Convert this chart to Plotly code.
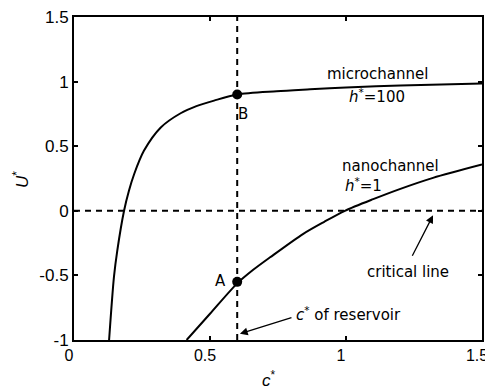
import plotly.graph_objects as go

# values
micro_c = [0.129, 0.147, 0.159, 0.184, 0.202, 0.221, 0.257, 0.319, 0.392, 0.45, 0.515, 0.6, 0.745, 0.868, 1.0, 1.2, 1.5]
micro_u = [-1.0, -0.51, -0.31, 0.0, 0.155, 0.283, 0.464, 0.645, 0.755, 0.81, 0.853, 0.9, 0.925, 0.94, 0.955, 0.97, 0.985]

nano_c = [0.414, 0.5, 0.601, 0.66, 0.721, 0.843, 0.92, 0.996, 1.1, 1.2, 1.32, 1.5]
nano_u = [-1.0, -0.797, -0.56, -0.455, -0.36, -0.178, -0.085, 0.0, 0.09, 0.17, 0.255, 0.358]

points_c = [0.6, 0.6]
points_u = [-0.55, 0.9]

reservoir_c = 0.6
critical_u = 0.0

x_ticks = [0, 0.5, 1, 1.5]
y_ticks = [-1, -0.5, 0, 0.5, 1, 1.5]

FONT = "Liberation Sans, Arial, sans-serif"
TEXT_FONT = "DejaVu Sans, sans-serif"

fig = go.Figure()

fig.add_trace(go.Scatter(x=micro_c, y=micro_u, mode="lines",
                         line=dict(color="black", width=2, shape="spline", smoothing=0.8)))
fig.add_trace(go.Scatter(x=nano_c, y=nano_u, mode="lines",
                         line=dict(color="black", width=2, shape="spline", smoothing=0.8)))

# dashed guide lines
fig.add_trace(go.Scatter(x=[reservoir_c, reservoir_c], y=[-1, 1.5], mode="lines",
                         line=dict(color="black", width=2, dash="6px,5px")))
fig.add_trace(go.Scatter(x=[0, 1.5], y=[critical_u, critical_u], mode="lines",
                         line=dict(color="black", width=2, dash="6px,5px")))

fig.add_trace(go.Scatter(x=points_c, y=points_u, mode="markers",
                         marker=dict(color="black", size=10)))

ann = []
def label(x, y, text, size=15, **kw):
    ann.append(dict(x=x, y=y, xref="x", yref="y", text=text, showarrow=False,
                    font=dict(family=TEXT_FONT, size=size, color="black"), **kw))

label(1.115, 1.06, "microchannel")
label(1.113, 0.885, "<i>h</i><sup>*</sup>=100")
label(0.621, 0.753, "B")
label(1.165, 0.345, "nanochannel")
label(1.066, 0.2, "<i>h</i><sup>*</sup>=1")
label(0.537, -0.54, "A")
label(1.229, -0.47, "critical line")
label(1.008, -0.797, "<i>c</i><sup>*</sup> of reservoir")

# arrows
ann.append(dict(x=1.32, y=-0.035, ax=1.241, ay=-0.359, xref="x", yref="y", axref="x", ayref="y",
                text="", showarrow=True, arrowhead=2, arrowsize=1.2, arrowwidth=1.3, arrowcolor="black"))
ann.append(dict(x=0.61, y=-0.952, ax=0.805, ay=-0.824, xref="x", yref="y", axref="x", ayref="y",
                text="", showarrow=True, arrowhead=2, arrowsize=1.2, arrowwidth=1.3, arrowcolor="black"))

# axis titles (paper coordinates so they are not hidden outside the ranges)
ann.append(dict(x=-0.13, y=0.498, xref="paper", yref="paper", text="<i>U</i><sup>*</sup>", showarrow=False,
                xanchor="center", yanchor="middle",
                textangle=-90, font=dict(family=FONT, size=17, color="black")))
ann.append(dict(x=0.479, y=-0.122, xref="paper", yref="paper", text="<i>c</i><sup>*</sup>", showarrow=False,
                xanchor="center", yanchor="middle",
                font=dict(family=FONT, size=17, color="black")))

# page body has an 8px margin, so the figure is sized to the remaining window
fig.update_layout(
    width=485, height=382,
    margin=dict(l=66, r=11, t=9, b=50, autoexpand=False),
    paper_bgcolor="white", plot_bgcolor="white",
    showlegend=False,
    annotations=ann,
    font=dict(family=FONT, size=17, color="black"),
)
fig.update_xaxes(range=[0, 1.5], tickvals=x_ticks, ticktext=["0", "0.5", "1", "1.5"],
                 tickfont=dict(size=16),
                 ticklabeloverflow="allow", automargin=False, ticklabelshift=-5,
                 showline=True, linecolor="black", linewidth=2, mirror="ticks",
                 ticks="inside", ticklen=4, tickcolor="black", tickwidth=1.5,
                 showgrid=False, zeroline=False)
fig.update_yaxes(range=[-1, 1.5], tickvals=y_ticks, ticktext=["-1", "-0.5", "0", "0.5", "1", "1.5"],
                 ticklabeloverflow="allow", automargin=False,
                 showline=True, linecolor="black", linewidth=2, mirror="ticks",
                 ticks="inside", ticklen=4, tickcolor="black", tickwidth=1.5,
                 showgrid=False, zeroline=False)

fig.write_html("out.html")
